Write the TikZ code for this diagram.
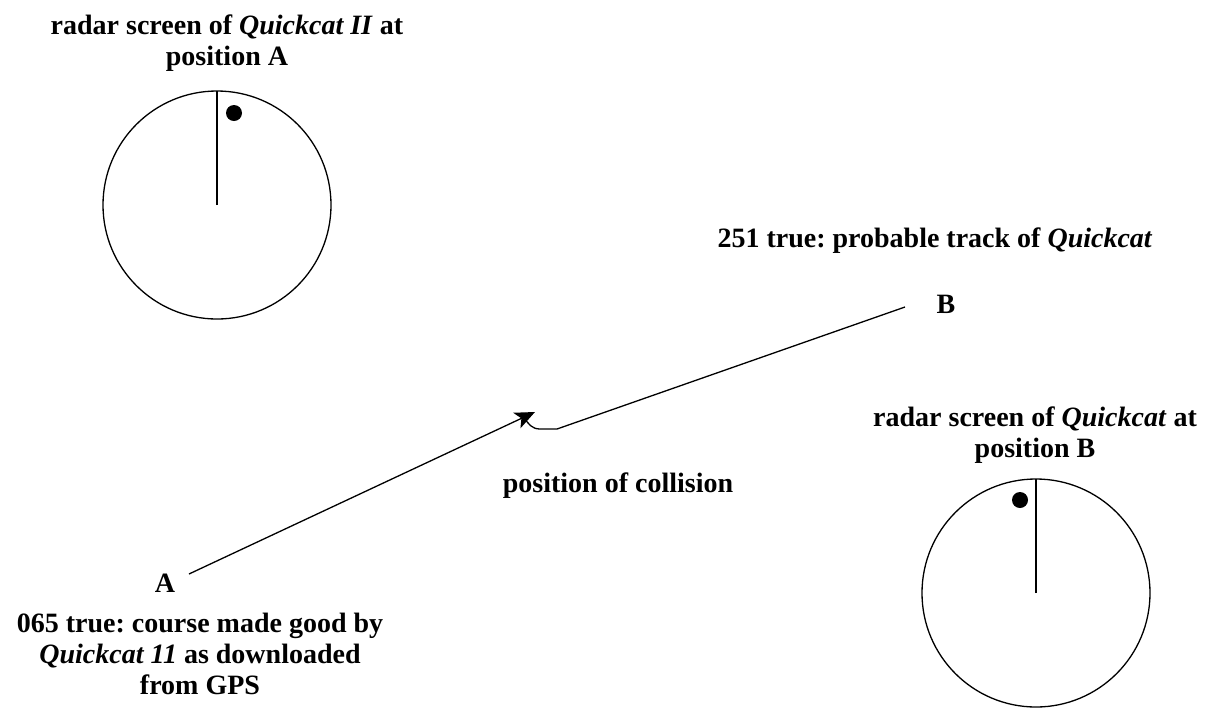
\documentclass[tikz,border=0pt]{standalone}
\usepackage{fontspec}
\setmainfont{Liberation Serif}
\frenchspacing
\usepackage{tikz}
\usetikzlibrary{arrows.meta, positioning}

\begin{document}
\begin{tikzpicture}[x=1pt, y=-1pt,
    font=\fontsize{28}{31}\selectfont\bfseries,
    lbl/.style={inner sep=0pt, align=center, anchor=base},
    radar/.style={line width=1.3pt},
    track/.style={line width=1.3pt}]
				\useasboundingbox (0,0) rectangle (1221,713);
				% radar screens
				\coordinate (ca) at (217,205);
				\coordinate (cb) at (1036,593);
				\draw[radar] (ca) circle[radius=114];
				\draw[radar] (ca) -- ++(0,-114);
				\fill (234,113) circle[radius=8];
				\draw[radar] (cb) circle[radius=114];
				\draw[radar] (cb) -- ++(0,-114);
				\fill (1020,500) circle[radius=8];
				
				% multi-line labels sit on their last baseline
				\node[lbl] (scrA) at (227,65) {radar screen of \textit{Quickcat II} at\\position A};
				\node[lbl] (scrB) at (1035,457) {radar screen of \textit{Quickcat} at\\position B};
				
				% tracks
				\node[lbl] (A) at (165,592) {A};
				\node[lbl] (B) at (946,313) {B};
				\coordinate (startA) at (189,574);
				\coordinate (endB) at (905,307);
				\coordinate (hit) at (535,412);
				\coordinate (bend) at (557,429);
				\coordinate (hook) at (540,429);
				
				\draw[-{Stealth[length=20pt, width=17pt, inset=5pt]}, track] (startA) -- (hit);
				\draw[track] (endB) -- (bend) -- (hook) .. controls (532,429) and (528,424) .. (524,417);
				
				\node[lbl] (trkB) at (935,247) {251 true: probable track of \textit{Quickcat}};
				\node[lbl] (coll) at (618,492) {position of collision};
				\node[lbl] (trkA) at (200,694) {065 true: course made good by\\\textit{Quickcat 11} as downloaded\\from GPS};
			\end{tikzpicture}
\end{document}
